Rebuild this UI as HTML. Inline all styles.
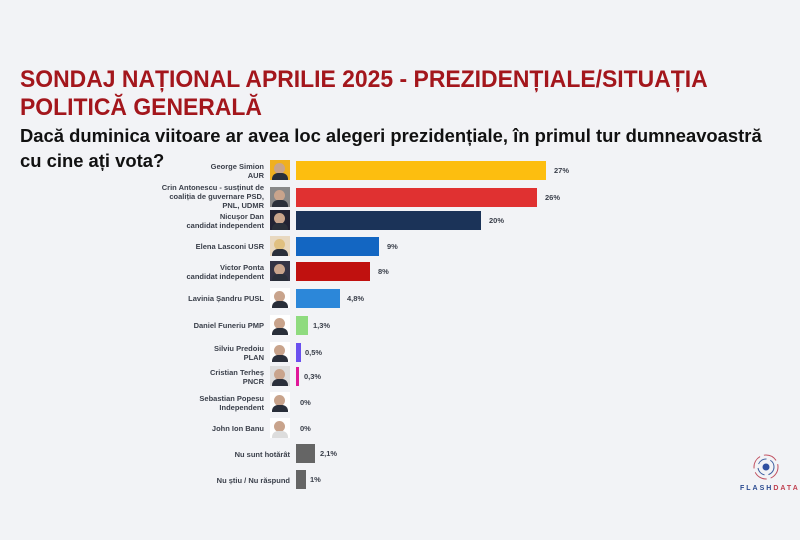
<!DOCTYPE html>
<html><head><meta charset="utf-8"><style>
body{margin:0;width:800px;height:540px;background:#f2f3f6;position:relative;overflow:hidden;font-family:"Liberation Sans",sans-serif}
.t{position:absolute;left:20px;color:#a3161c;font-weight:bold;font-size:24px;white-space:nowrap;transform:scaleX(0.955);transform-origin:left top;line-height:28px}
.s{position:absolute;left:20px;color:#111;font-weight:bold;font-size:18.5px;white-space:nowrap;transform:scaleX(0.995);transform-origin:left top;line-height:24px}
.l{position:absolute;right:536px;text-align:right;font-size:7.5px;font-weight:bold;color:#3a3f4a;line-height:9px;white-space:nowrap}
.p{position:absolute;left:270px;width:20px;height:20px;background:#fff;overflow:hidden}
.p i{position:absolute;left:4px;top:3px;width:11px;height:11px;border-radius:50%;background:#c9a48c}
.p b{position:absolute;left:2px;top:13px;width:16px;height:8px;border-radius:6px 6px 0 0;background:#2a2f3a}
.b{position:absolute;left:296px;height:19px}
.v{position:absolute;font-size:7.5px;font-weight:bold;color:#3a3f4a}
</style></head><body>
<div class="t" style="top:66px">SONDAJ NAȚIONAL APRILIE 2025 - PREZIDENȚIALE/SITUAȚIA</div>
<div class="t" style="top:94px">POLITICĂ GENERALĂ</div>
<div class="s" style="top:124px">Dacă duminica viitoare ar avea loc alegeri prezidențiale, în primul tur dumneavoastră</div>
<div class="s" style="top:149px">cu cine ați vota?</div>

<div class="l" style="top:162px">George Simion<br>AUR</div>
<div class="p" style="top:160px;background:#f0b020"><i></i><b></b></div>
<div class="b" style="top:161px;width:250px;background:#fdbe0f"></div><div class="v" style="left:554px;top:166px">27%</div>

<div class="l" style="top:183px">Crin Antonescu - susținut de<br>coaliția de guvernare PSD,<br>PNL, UDMR</div>
<div class="p" style="top:187px;background:#888"><i></i><b></b></div>
<div class="b" style="top:188px;width:241px;background:#e03131"></div><div class="v" style="left:545px;top:193px">26%</div>

<div class="l" style="top:212px">Nicușor Dan<br>candidat independent</div>
<div class="p" style="top:210px;background:#223"><i></i><b></b></div>
<div class="b" style="top:211px;width:185px;background:#1b3358"></div><div class="v" style="left:489px;top:216px">20%</div>

<div class="l" style="top:242px">Elena Lasconi USR</div>
<div class="p" style="top:236px;background:#e8d8c0"><i style="background:#e0c080"></i><b></b></div>
<div class="b" style="top:237px;width:83px;background:#1366c2"></div><div class="v" style="left:387px;top:242px">9%</div>

<div class="l" style="top:263px">Victor Ponta<br>candidat independent</div>
<div class="p" style="top:261px;background:#334"><i></i><b></b></div>
<div class="b" style="top:262px;width:74px;background:#c0110f"></div><div class="v" style="left:378px;top:267px">8%</div>

<div class="l" style="top:294px">Lavinia Șandru PUSL</div>
<div class="p" style="top:288px"><i></i><b></b></div>
<div class="b" style="top:289px;width:44px;background:#2c87d9"></div><div class="v" style="left:347px;top:294px">4,8%</div>

<div class="l" style="top:321px">Daniel Funeriu PMP</div>
<div class="p" style="top:315px"><i></i><b></b></div>
<div class="b" style="top:316px;width:12px;background:#8fdb7f"></div><div class="v" style="left:313px;top:321px">1,3%</div>

<div class="l" style="top:344px">Silviu Predoiu<br>PLAN</div>
<div class="p" style="top:342px"><i></i><b></b></div>
<div class="b" style="top:343px;width:5px;background:#6a50ef"></div><div class="v" style="left:305px;top:348px">0,5%</div>

<div class="l" style="top:368px">Cristian Terheș<br>PNCR</div>
<div class="p" style="top:366px;background:#ddd"><i></i><b></b></div>
<div class="b" style="top:367px;width:3px;background:#e0189a"></div><div class="v" style="left:304px;top:372px">0,3%</div>

<div class="l" style="top:394px">Sebastian Popesu<br>Independent</div>
<div class="p" style="top:392px"><i></i><b></b></div>
<div class="v" style="left:300px;top:398px">0%</div>

<div class="l" style="top:424px">John Ion Banu</div>
<div class="p" style="top:418px"><i></i><b style="background:#ddd"></b></div>
<div class="v" style="left:300px;top:424px">0%</div>

<div class="l" style="top:450px;right:510px">Nu sunt hotărât</div>
<div class="b" style="top:444px;width:19px;background:#656565"></div><div class="v" style="left:320px;top:449px">2,1%</div>

<div class="l" style="top:476px;right:510px">Nu știu / Nu răspund</div>
<div class="b" style="top:470px;width:10px;background:#656565"></div><div class="v" style="left:310px;top:475px">1%</div>

<svg style="position:absolute;left:750px;top:452px" width="32" height="30" viewBox="0 0 32 30">
<circle cx="16" cy="15" r="12" fill="none" stroke="#c05060" stroke-width="1" stroke-dasharray="14 4"/>
<circle cx="16" cy="15" r="8" fill="none" stroke="#4060a0" stroke-width="1" stroke-dasharray="10 4"/>
<circle cx="16" cy="15" r="3.5" fill="#3050a0"/>
</svg>
<div style="position:absolute;left:740px;top:485px;font-size:7px;letter-spacing:2px;color:#2a4a90;font-weight:bold">FLASH<span style="color:#c04050">DATA</span></div>
</body></html>
